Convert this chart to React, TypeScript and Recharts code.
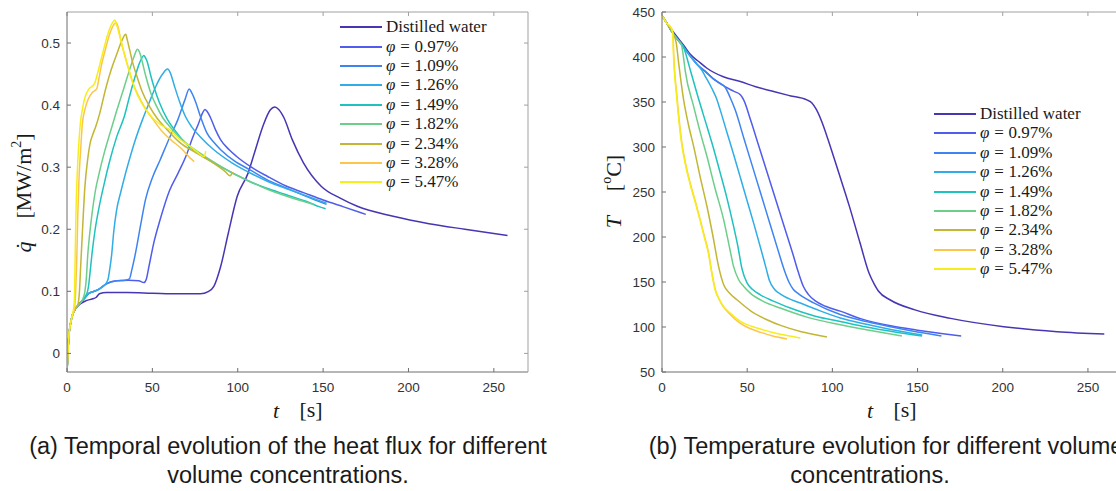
import React from 'react';
import { LineChart, Line, XAxis, YAxis, Legend } from 'recharts';

type Pt = [number, number];

// ---------- shared categories / ticks ----------
const seriesNames = [
  'Distilled water',
  'φ = 0.97%',
  'φ = 1.09%',
  'φ = 1.26%',
  'φ = 1.49%',
  'φ = 1.82%',
  'φ = 2.34%',
  'φ = 3.28%',
  'φ = 5.47%',
];
const seriesColors = ['#4636b3', '#505cec', '#3d84f2', '#30ade6', '#1ec2bf', '#6dce8a', '#c2b634', '#fdc64a', '#f6ee1c'];
const timeTicks = [0, 50, 100, 150, 200, 250];
const fluxTicks = [0, 0.1, 0.2, 0.3, 0.4, 0.5];
const tempTicks = [50, 100, 150, 200, 250, 300, 350, 400, 450];

// ---------- (a) heat flux [MW/m^2] vs time [s] ----------
const qWater: Pt[] = [[0, -0.03], [0.5, 0], [1, 0.025], [2, 0.047], [3, 0.06], [5, 0.072], [8, 0.08], [10.5, 0.084], [15, 0.088], [17, 0.09], [19, 0.096], [23, 0.098], [35, 0.098], [50, 0.097], [65, 0.096], [78, 0.096], [83, 0.1], [86, 0.108], [90, 0.14], [94.5, 0.194], [99.7, 0.253], [106, 0.29], [110, 0.325], [115, 0.368], [119, 0.392], [121.7, 0.397], [124, 0.393], [127, 0.38], [132, 0.344], [138.5, 0.307], [149, 0.269], [160, 0.25], [170, 0.237], [191, 0.221], [212, 0.209], [233, 0.2], [258, 0.19]];
const q097: Pt[] = [[0, -0.03], [0.5, 0], [1, 0.025], [2, 0.047], [3, 0.06], [5, 0.072], [7, 0.079], [10, 0.088], [13, 0.097], [16, 0.1], [19, 0.104], [23, 0.112], [29, 0.117], [36, 0.118], [42, 0.117], [45, 0.114], [46.5, 0.12], [48, 0.14], [51, 0.18], [54.6, 0.216], [60, 0.262], [65, 0.29], [70, 0.32], [73.5, 0.347], [77, 0.37], [79.5, 0.388], [80.8, 0.393], [82, 0.39], [84, 0.38], [87, 0.36], [90, 0.344], [95, 0.328], [99, 0.318], [108, 0.3], [117.5, 0.285], [128, 0.27], [138.5, 0.259], [150, 0.247], [162, 0.236], [175, 0.224]];
const q109: Pt[] = [[0, -0.03], [0.5, 0], [1, 0.025], [2, 0.047], [3, 0.06], [5, 0.072], [7, 0.079], [10, 0.088], [13, 0.097], [16, 0.1], [19, 0.104], [23, 0.112], [29, 0.117], [34, 0.118], [36.5, 0.12], [38, 0.135], [40, 0.16], [43, 0.205], [46, 0.248], [50, 0.283], [54.6, 0.312], [60, 0.347], [65, 0.377], [69, 0.408], [71.6, 0.426], [73, 0.42], [75.6, 0.403], [78, 0.383], [82, 0.355], [86, 0.34], [90, 0.328], [98, 0.31], [107, 0.296], [117, 0.28], [128, 0.267], [140, 0.253], [152, 0.24]];
const q126: Pt[] = [[0, -0.03], [0.5, 0], [1, 0.025], [2, 0.047], [3, 0.06], [5, 0.072], [7, 0.079], [10, 0.088], [13, 0.097], [16, 0.1], [19, 0.104], [22, 0.11], [24, 0.119], [25, 0.135], [26.2, 0.16], [27.3, 0.194], [29, 0.23], [31.5, 0.26], [34, 0.287], [36, 0.307], [39.9, 0.343], [44, 0.375], [48.3, 0.405], [52, 0.43], [56, 0.45], [58.9, 0.458], [60.5, 0.452], [63, 0.43], [66, 0.405], [69.3, 0.382], [73, 0.365], [77.7, 0.35], [86, 0.328], [96.6, 0.307], [107, 0.291], [117.6, 0.277], [130, 0.264], [140, 0.254], [152, 0.242]];
const q149: Pt[] = [[0, -0.03], [0.5, 0], [1, 0.025], [2, 0.047], [3, 0.06], [5, 0.072], [7, 0.079], [9, 0.085], [11, 0.093], [12, 0.1], [12.6, 0.108], [13.5, 0.13], [14.7, 0.162], [16.5, 0.2], [18.9, 0.237], [21.5, 0.27], [25.2, 0.312], [29, 0.348], [33.6, 0.382], [37, 0.418], [39.9, 0.446], [42.5, 0.468], [45, 0.48], [46, 0.476], [47.2, 0.468], [49, 0.448], [51.4, 0.425], [54, 0.405], [58.8, 0.377], [63, 0.36], [69.3, 0.339], [77, 0.322], [86, 0.307], [96, 0.292], [107, 0.277], [117, 0.266], [128, 0.256], [140, 0.245], [148, 0.236], [151.5, 0.233]];
const q182: Pt[] = [[0, -0.03], [0.5, 0], [1, 0.025], [2, 0.047], [3, 0.06], [5, 0.072], [7, 0.079], [9, 0.086], [10.5, 0.1], [11.3, 0.12], [12.2, 0.16], [13.2, 0.19], [14.7, 0.226], [16.5, 0.26], [18.9, 0.291], [22, 0.325], [25.2, 0.355], [29, 0.39], [33.6, 0.43], [37, 0.46], [39.5, 0.48], [41.2, 0.49], [42, 0.488], [43, 0.481], [44.5, 0.465], [46.2, 0.446], [49, 0.42], [52.5, 0.398], [56, 0.38], [60.9, 0.363], [68, 0.343], [77.7, 0.323], [86, 0.308], [96.6, 0.291], [107, 0.277], [117.6, 0.264], [130, 0.252], [144.8, 0.24]];
const q234: Pt[] = [[0, -0.03], [0.5, 0], [1, 0.025], [2, 0.047], [3, 0.06], [5, 0.072], [6.5, 0.08], [7.3, 0.1], [8, 0.14], [9, 0.194], [10.5, 0.269], [12, 0.31], [13.6, 0.339], [15, 0.352], [16.8, 0.365], [19, 0.385], [23, 0.43], [26, 0.458], [29.4, 0.484], [32, 0.503], [34.4, 0.514], [35.3, 0.505], [36.7, 0.489], [38.5, 0.468], [41, 0.446], [44, 0.422], [48.3, 0.398], [53, 0.378], [58.8, 0.36], [66, 0.34], [75.6, 0.323], [86, 0.306], [93, 0.292], [95.5, 0.286], [97, 0.292]];
const q328: Pt[] = [[0, -0.03], [0.5, 0], [1, 0.025], [2, 0.047], [3, 0.06], [4.3, 0.07], [5.2, 0.108], [5.8, 0.16], [6.3, 0.221], [7, 0.28], [8, 0.328], [9, 0.37], [10.5, 0.393], [12.5, 0.41], [14.7, 0.42], [17.4, 0.426], [18.5, 0.44], [20, 0.462], [22.5, 0.49], [25.2, 0.516], [27.5, 0.53], [28.8, 0.533], [30, 0.525], [31.5, 0.505], [33.5, 0.483], [35.7, 0.462], [38.5, 0.436], [42, 0.414], [46, 0.394], [50.4, 0.377], [55, 0.36], [60.9, 0.344], [67, 0.33], [72, 0.315], [74.5, 0.309]];
const q547: Pt[] = [[0, -0.03], [0.5, 0], [1, 0.025], [2, 0.047], [3, 0.06], [4.2, 0.08], [4.7, 0.14], [5.2, 0.221], [6, 0.29], [6.7, 0.328], [7.8, 0.37], [9, 0.393], [10.8, 0.415], [12.6, 0.425], [16.2, 0.435], [17.3, 0.445], [18.9, 0.462], [21.5, 0.49], [24.1, 0.516], [26.5, 0.532], [28, 0.537], [29, 0.53], [30.4, 0.516], [32.5, 0.494], [34.6, 0.473], [37, 0.45], [39.9, 0.425], [44, 0.402], [48.3, 0.385], [54, 0.37], [60.3, 0.36], [66, 0.345], [71.4, 0.335], [76, 0.325], [80.5, 0.317], [81.2, 0.326]];

// ---------- (b) temperature [°C] vs time [s] ----------
const tWater: Pt[] = [[0, 446], [3, 437], [6.5, 428], [9.8, 420], [12.7, 413], [16.6, 403], [21.5, 395], [26.4, 387.5], [36, 378], [46, 372.7], [55, 367], [65.5, 361.6], [75, 357], [85, 352.3], [88, 349], [90.5, 342], [95, 322], [97.5, 308], [103.8, 271], [110, 234], [116.3, 193], [121.5, 160], [124.5, 148], [127, 140], [134, 130], [148.5, 119], [169.4, 109.6], [200.6, 100.4], [231.9, 94.8], [259.6, 92.2]];
const t097: Pt[] = [[0, 446], [3, 437], [6.5, 426], [9.8, 418], [12.7, 411], [16.6, 401], [20.5, 392], [25.4, 384], [30, 376], [37, 367], [42, 362], [46, 358], [48, 352], [52, 330], [57, 300], [62, 270], [67, 240], [72, 210], [77, 180], [80, 161], [83, 145], [86, 136], [90, 129], [96, 123], [104.6, 117.6], [117, 109], [135, 101], [150, 96.5], [165, 92.5], [175.6, 90]];
const t109: Pt[] = [[0, 446], [3, 437], [6.5, 426], [9.8, 418], [12.7, 411], [16.6, 401], [20.5, 392], [25.4, 384], [30, 376], [34, 371], [37.1, 366.4], [40, 355], [43, 341], [48, 310], [53, 279], [58, 248], [63, 217], [68, 186], [72, 162], [74.5, 150], [77, 142], [80, 137], [89, 126.8], [104.6, 113.9], [120, 106], [140, 98], [164, 90]];
const t126: Pt[] = [[0, 446], [3, 437], [6.5, 426], [9.8, 418], [12.7, 411], [16.6, 401], [20.5, 392], [23.5, 385], [25.4, 378.5], [29.3, 365], [32, 354], [34.2, 341], [38, 317], [42, 292], [46, 266], [50, 240], [54, 214], [58, 187], [61, 166], [63, 152], [66, 142], [70, 136], [81.2, 126.6], [90, 120], [104.6, 110], [120, 103], [135, 97], [152.7, 91]];
const t149: Pt[] = [[0, 446], [3, 437], [6.5, 426], [9.8, 418], [12.7, 411], [14.7, 398.6], [16.6, 385.6], [20.5, 359.7], [26.4, 322.7], [30, 300], [34.2, 271], [38, 244], [42, 212], [44.5, 190], [46.9, 165], [49.9, 149], [53, 142], [57.7, 135.8], [65, 129], [75.3, 121.1], [90, 112], [104.6, 106.2], [120, 100], [135, 95], [152.7, 90]];
const t182: Pt[] = [[0, 446], [3, 437], [6.5, 426], [9.8, 418], [11.5, 413], [12.3, 404], [13.7, 383.8], [18.6, 344.9], [22.5, 316], [26.4, 289.4], [31, 255], [36.2, 219.1], [40, 185], [42, 167.3], [45, 152.5], [48, 145], [51.8, 137.7], [60, 128], [69.4, 121.1], [85, 111], [104.6, 102.5], [120, 97], [140.8, 90]];
const t234: Pt[] = [[0, 446], [3, 437], [6.5, 426], [8.4, 415.2], [9.8, 393], [12.7, 352.3], [15.5, 325], [18.6, 300.5], [22.5, 266], [26.4, 233.9], [30, 200], [33.2, 167.3], [36.2, 146.9], [40, 137], [44, 130.3], [52, 118], [61.6, 108.1], [70, 101.5], [81.2, 95.1], [90, 91.5], [96.8, 88.9]];
const t328: Pt[] = [[0, 446], [3, 437], [5.5, 432], [6.5, 426], [6.8, 407.8], [8.8, 356], [11.7, 304], [14, 280], [16.6, 259.5], [19.5, 240], [22.5, 218.8], [25, 200], [27.4, 182.1], [29.3, 160], [31.3, 141.4], [33.5, 131], [36.2, 122], [40, 114], [46, 104], [52, 98], [58, 94], [65, 90], [73.4, 86.7]];
const t547: Pt[] = [[0, 446], [3, 437], [5.5, 432], [6.3, 426], [6.6, 407.8], [8.6, 356], [11.5, 304], [13.8, 280], [16.4, 259.5], [19.3, 240], [22.3, 218.8], [24.8, 200], [27.2, 182.1], [29.2, 160], [31.2, 141.4], [33.5, 131], [36.2, 122.6], [40, 115.5], [46, 106.2], [55.8, 98.9], [65, 94], [73.4, 90.5], [81.2, 87.8]];

const fluxSeries = [qWater, q097, q109, q126, q149, q182, q234, q328, q547];
const tempSeries = [tWater, t097, t109, t126, t149, t182, t234, t328, t547];

const toRows = (pts: Pt[]) => pts.map(([t, v]) => ({ t, v }));

const SANS = '"Liberation Sans", Arial, sans-serif';
const SERIF = '"Liberation Serif", "Times New Roman", serif';
const AXIS = '#6e6e6e';
const BOX = '#a0a0a0';
const TICK = '#333333';

function LegendLabel({ text }: { text: string }) {
  if (text.startsWith('φ')) {
    const rest = text.replace(/^φ\s*=\s*/, '');
    return (
      <span>
        <i>φ</i>
        <span style={{ margin: '0 0.28em' }}>=</span>
        {rest}
      </span>
    );
  }
  return <span>{text}</span>;
}

const renderLegend = (props: any) => {
  const payload = (props.payload || []).filter((e: any) => e.type !== 'none');
  return (
    <div style={{ fontFamily: SERIF, fontSize: 17, color: '#1a1a1a' }}>
      {payload.map((e: any) => (
        <div key={e.value} style={{ display: 'flex', alignItems: 'center', height: 19.4, whiteSpace: 'nowrap' }}>
          <svg width={42} height={4} style={{ marginRight: 4, display: 'block' }}>
            <line x1={0} y1={2} x2={42} y2={2} stroke={e.color} strokeWidth={2} />
          </svg>
          <LegendLabel text={String(e.value)} />
        </div>
      ))}
    </div>
  );
};

type PanelProps = {
  left: number;
  width: number;
  rightMargin: number;
  yWidth: number;
  yDomain: [number, number];
  yTicks: number[];
  series: Pt[][];
  legendLeft: number;
  legendTop: number;
};

// mirrored (top / right) axes only carry inward tick marks, no labels
const emptyTick = () => <g />;

function Panel({ left, width, rightMargin, yWidth, yDomain, yTicks, series, legendLeft, legendTop }: PanelProps) {
  const tickStyle = { fill: TICK, fontSize: 13.5, fontFamily: SANS };
  return (
    <div style={{ position: 'absolute', left, top: 0 }}>
      <LineChart width={width} height={420} margin={{ top: 11, right: rightMargin - 1, bottom: 0, left: 0 }}>
        <XAxis xAxisId="b" type="number" dataKey="t" domain={[0, 270]} ticks={timeTicks} interval={0} allowDataOverflow height={48} tickSize={-4} tickMargin={14} stroke={AXIS} tick={tickStyle} />
        <XAxis xAxisId="top" orientation="top" type="number" dataKey="t" domain={[0, 270]} ticks={timeTicks} interval={0} allowDataOverflow height={1} tickSize={-4} tickMargin={0} stroke={BOX} tick={emptyTick} />
        <YAxis yAxisId="l" type="number" domain={yDomain} ticks={yTicks} interval={0} allowDataOverflow width={yWidth} tickSize={-4} tickMargin={11} stroke={AXIS} tick={tickStyle} />
        <YAxis yAxisId="r" orientation="right" type="number" domain={yDomain} ticks={yTicks} interval={0} allowDataOverflow width={1} tickSize={-4} tickMargin={0} stroke={BOX} tick={emptyTick} />
        <Legend layout="vertical" align="center" verticalAlign="middle" content={renderLegend} wrapperStyle={{ left: legendLeft, top: legendTop, width: 'auto' }} />
        {series.map((pts, i) => (
          <Line
            key={seriesNames[i]}
            xAxisId="b"
            yAxisId="l"
            data={toRows(pts)}
            dataKey="v"
            name={seriesNames[i]}
            stroke={seriesColors[i]}
            strokeWidth={1.5}
            dot={false}
            activeDot={false}
            type="monotone"
            isAnimationActive={false}
          />
        ))}
        <Line
          xAxisId="top"
          yAxisId="r"
          data={toRows(series[0])}
          dataKey="v"
          stroke="none"
          strokeWidth={0}
          dot={false}
          activeDot={false}
          legendType="none"
          isAnimationActive={false}
        />
      </LineChart>
    </div>
  );
}

export default function App() {
  return (
    <div style={{ position: 'absolute', left: 0, top: 0, width: 1116, height: 491, overflow: 'hidden', background: '#fff' }}>
      <Panel left={0} width={560} rightMargin={32} yWidth={67} yDomain={[-0.03, 0.55]} yTicks={fluxTicks} series={fluxSeries} legendLeft={340} legendTop={17.6} />
      <Panel left={594} width={540} rightMargin={12} yWidth={68} yDomain={[50, 450]} yTicks={tempTicks} series={tempSeries} legendLeft={340} legendTop={104.3} />
      <svg width={1116} height={491} style={{ position: 'absolute', left: 0, top: 0, pointerEvents: 'none' }}>
        <g fontFamily={SERIF} fontSize={22} fill="#1a1a1a" dominantBaseline="central" textAnchor="middle">
          <text x={276} y={410} fontStyle="italic">t</text>
          <text x={311} y={409}>[s]</text>
          <text x={870} y={410} fontStyle="italic">t</text>
          <text x={905} y={409}>[s]</text>
          <text transform="translate(23,247) rotate(-90)" fontStyle="italic">q̇</text>
          <text transform="translate(23,176) rotate(-90)">
            [MW/m<tspan dy={-7} fontSize={14}>2</tspan>
            <tspan dy={7}>]</tspan>
          </text>
          <text transform="translate(613,222) rotate(-90)" fontStyle="italic">T</text>
          <text transform="translate(613,173) rotate(-90)">
            [<tspan dy={-7} fontSize={14}>o</tspan>
            <tspan dy={7}>C]</tspan>
          </text>
        </g>
        <g fontFamily={SANS} fontSize={23.5} fill="#1a1a1a" dominantBaseline="central" textAnchor="middle">
          <text x={288} y={446}>(a) Temporal evolution of the heat flux for different</text>
          <text x={288} y={475}>volume concentrations.</text>
          <text x={886} y={446}>(b) Temperature evolution for different volume</text>
          <text x={870} y={475}>concentrations.</text>
        </g>
      </svg>
    </div>
  );
}
